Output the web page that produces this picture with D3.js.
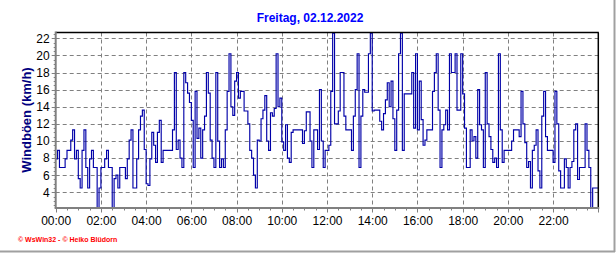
<!DOCTYPE html>
<html>
<head>
<meta charset="utf-8"/>
<title>Windböen</title>
<script src="https://cdn.jsdelivr.net/npm/d3@7"></script>
<style>
  body { margin: 0; background: #fff; }
  svg { display: block; }
  text { font-family: Arial, "Liberation Sans", sans-serif; }
</style>
</head>
<body>
<div id="chart"></div>
<script>
// title + axis texts
var title = "Freitag, 02.12.2022";
var yTitle = "Windböen (km/h)";
var footer = "\u00a9 WsWin32  -  \u00a9 Heiko Blüdorn";

// x ticks every 2 hours, y ticks every 2 km/h
var xTicks = ["00:00","02:00","04:00","06:00","08:00","10:00","12:00","14:00","16:00","18:00","20:00","22:00"];
var yTicks = [4, 6, 8, 10, 12, 14, 16, 18, 20, 22];

// gusts, one row per hour, one value every 5 minutes
var h00 = [7.9, 8.9, 6.9, 6.9, 6.9, 7.9, 8.9, 8.9, 10.1, 11.3, 7.9, 8.9];
var h01 = [5.6, 4.5, 8.9, 11.3, 6.9, 4.5, 7.9, 8.9, 6.9, 6.9, 2.2, 4.5];
var h02 = [6.9, 6.9, 7.9, 8.9, 6.9, 6.9, 2.2, 5.6, 6.0, 4.5, 6.9, 6.9];
var h03 = [6.9, 5.6, 7.9, 10.1, 11.3, 4.5, 4.5, 7.9, 11.3, 12.9, 13.6, 9.0];
var h04 = [5.0, 4.8, 7.9, 11.0, 9.5, 7.5, 11.0, 12.4, 7.5, 8.9, 8.9, 8.9];
var h05 = [8.9, 8.9, 11.3, 18.0, 9.0, 10.1, 8.0, 6.9, 18.0, 16.8, 15.6, 14.5];
var h06 = [12.4, 6.9, 15.8, 10.3, 11.5, 8.0, 11.3, 12.9, 18.0, 15.6, 10.1, 8.0];
var h07 = [6.9, 18.0, 10.0, 6.9, 7.9, 6.9, 11.3, 15.8, 20.2, 14.0, 13.0, 17.0];
var h08 = [18.0, 15.0, 15.8, 15.8, 13.5, 13.5, 12.0, 8.9, 8.0, 6.0, 4.5, 10.1];
var h09 = [10.0, 12.6, 13.6, 15.3, 10.0, 8.9, 13.3, 12.9, 13.8, 20.2, 14.0, 15.0];
var h10 = [9.9, 8.9, 11.9, 8.0, 7.5, 11.0, 11.3, 11.3, 11.3, 11.3, 11.3, 9.7];
var h11 = [11.2, 13.4, 13.4, 10.0, 6.9, 11.3, 11.3, 9.0, 16.0, 10.0, 6.9, 8.9];
var h12 = [8.9, 9.5, 15.8, 22.6, 12.0, 12.0, 13.5, 18.0, 18.0, 12.9, 11.3, 11.3];
var h13 = [11.3, 8.9, 12.9, 16.0, 20.2, 6.9, 12.9, 16.0, 15.7, 15.7, 20.2, 22.6];
var h14 = [13.5, 13.6, 13.6, 13.6, 12.3, 11.3, 13.2, 14.8, 16.8, 14.0, 17.0, 12.6];
var h15 = [8.9, 13.6, 20.2, 22.6, 8.9, 15.5, 15.5, 15.5, 15.5, 18.0, 11.5, 20.2];
var h16 = [11.3, 17.0, 12.5, 9.5, 10.1, 11.3, 11.3, 11.3, 15.8, 18.0, 20.2, 13.6];
var h17 = [6.9, 11.3, 11.9, 13.6, 11.3, 20.2, 18.0, 18.0, 20.2, 13.6, 13.6, 20.2];
var h18 = [15.5, 11.5, 6.9, 6.9, 11.3, 10.0, 10.5, 8.0, 16.0, 11.9, 11.3, 6.9];
var h19 = [18.0, 12.0, 10.5, 9.0, 7.5, 8.0, 6.9, 20.2, 11.3, 7.5, 8.9, 8.9];
var h20 = [8.9, 8.9, 10.0, 11.3, 11.3, 11.3, 10.5, 15.8, 12.0, 9.8, 6.9, 7.6];
var h21 = [4.5, 8.9, 9.5, 11.3, 6.5, 4.5, 12.9, 15.8, 10.5, 8.9, 8.9, 8.9];
var h22 = [7.5, 15.8, 12.0, 6.5, 4.5, 4.5, 7.9, 6.9, 4.5, 6.9, 7.6, 11.3];
var h23 = [12.0, 5.5, 6.9, 6.9, 6.9, 12.0, 8.9, 6.9, 2.2, 4.5, 4.5, 4.5];

var hours = [h00,h01,h02,h03,h04,h05,h06,h07,h08,h09,h10,h11,
             h12,h13,h14,h15,h16,h17,h18,h19,h20,h21,h22,h23];

var W = 616, H = 253;
var pLeft = 55.7, pRight = 598.3, pTop = 32.5, pBottom = 207.5;

var svg = d3.select("#chart").append("svg")
    .attr("width", W)
    .attr("height", H);

// data in minutes of the day
var data = [];
hours.forEach(function(row, h) {
  row.forEach(function(v, k) {
    data.push({ t: h * 60 + k * 5, v: v });
  });
});
// hold last value till midnight
data.push({ t: 24 * 60, v: data[data.length - 1].v });

var x = d3.scaleLinear().domain([0, 24 * 60]).range([pLeft, pRight]);
var y = d3.scaleLinear().domain([4, 22]).range([192.3, 38.3]);

// outer frame (right / bottom gray)
svg.append("line").attr("x1", W - 1.5).attr("x2", W - 1.5).attr("y1", 0).attr("y2", H - 1)
   .attr("stroke", "#a0a0a0").attr("stroke-width", 2);
svg.append("line").attr("x1", 0).attr("x2", W - 1).attr("y1", H - 1.5).attr("y2", H - 1.5)
   .attr("stroke", "#a0a0a0").attr("stroke-width", 2);

// grid
var grid = svg.append("g").attr("stroke", "#808080").attr("stroke-dasharray", "4,3").attr("stroke-width", 1);
yTicks.forEach(function(v) {
  var yy = Math.round(y(v)) + 0.5;
  grid.append("line").attr("x1", pLeft).attr("x2", pRight).attr("y1", yy).attr("y2", yy);
});
xTicks.forEach(function(lab, i) {
  if (i == 0) return;
  var xx = Math.round(x(i * 120)) + 0.5;
  grid.append("line").attr("x1", xx).attr("x2", xx).attr("y1", pTop).attr("y2", pBottom);
});

// line
svg.append("clipPath").attr("id", "clip")
  .append("rect").attr("x", pLeft).attr("y", pTop).attr("width", pRight - pLeft).attr("height", pBottom - pTop);

var line = d3.line()
    .x(function(d) { return x(d.t); })
    .y(function(d) { return y(d.v); })
    .curve(d3.curveStepAfter);

svg.append("path")
    .datum(data)
    .attr("clip-path", "url(#clip)")
    .attr("fill", "none")
    .attr("stroke", "#0000a8")
    .attr("stroke-width", 1.15)
    .attr("d", line);

// frame: top + right black, left + bottom gray
svg.append("line").attr("x1", pLeft).attr("x2", pRight + 0.5).attr("y1", pTop).attr("y2", pTop)
   .attr("stroke", "#000").attr("stroke-width", 1.5);
svg.append("line").attr("x1", pRight).attr("x2", pRight).attr("y1", pTop).attr("y2", pBottom)
   .attr("stroke", "#000").attr("stroke-width", 1.5);

// axes
var yAxis = d3.axisLeft(y).tickValues(yTicks).tickSize(0).tickPadding(6);
var gy = svg.append("g").attr("transform", "translate(" + pLeft + ",0)").call(yAxis);
gy.select(".domain").remove();
gy.selectAll("text").attr("font-size", 12).attr("fill", "#000")
  .attr("font-family", "Arial, 'Liberation Sans', sans-serif");

var xAxis = d3.axisBottom(x).tickValues(xTicks.map(function(d, i) { return i * 120; }))
    .tickFormat(function(d, i) { return xTicks[i]; })
    .tickSize(0).tickPadding(9);
var gx = svg.append("g").attr("transform", "translate(0," + pBottom + ")").call(xAxis);
gx.select(".domain").remove();
gx.selectAll("text").attr("font-size", 12).attr("fill", "#000")
  .attr("font-family", "Arial, 'Liberation Sans', sans-serif");

// minor / major tick marks
var ticks = svg.append("g").attr("stroke", "#808080").attr("stroke-width", 1);
d3.range(0, 24 * 60 + 1, 30).forEach(function(t) {
  var xx = Math.round(x(t)) + 0.5;
  var len = (t % 120 == 0) ? 5 : 3;
  ticks.append("line").attr("x1", xx).attr("x2", xx).attr("y1", pBottom).attr("y2", pBottom + len);
});
d3.range(2.5, 22.6, 0.5).forEach(function(v) {
  var yy = Math.round(y(v)) + 0.5;
  var len = (v % 2 == 0) ? 4 : 2;
  ticks.append("line").attr("x1", pLeft - len).attr("x2", pLeft).attr("y1", yy).attr("y2", yy);
});

svg.append("line").attr("x1", pLeft).attr("x2", pLeft).attr("y1", pTop - 1).attr("y2", pBottom + 1)
   .attr("stroke", "#808080").attr("stroke-width", 2);
svg.append("line").attr("x1", pLeft - 1).attr("x2", pRight + 1).attr("y1", pBottom + 0.5).attr("y2", pBottom + 0.5)
   .attr("stroke", "#808080").attr("stroke-width", 2);

// texts
svg.append("text").attr("x", 310).attr("y", 22)
   .attr("text-anchor", "middle").attr("font-size", 12).attr("font-weight", "bold")
   .attr("fill", "#0000ff").text(title);

svg.append("text").attr("transform", "translate(31,120) rotate(-90)")
   .attr("text-anchor", "middle").attr("font-size", 13).attr("font-weight", "bold")
   .attr("fill", "#000080").text(yTitle);

svg.append("text").attr("x", 18).attr("y", 242)
   .attr("font-size", 7).attr("font-weight", "bold")
   .attr("fill", "#ff0000").text(footer);
</script>
</body>
</html>
